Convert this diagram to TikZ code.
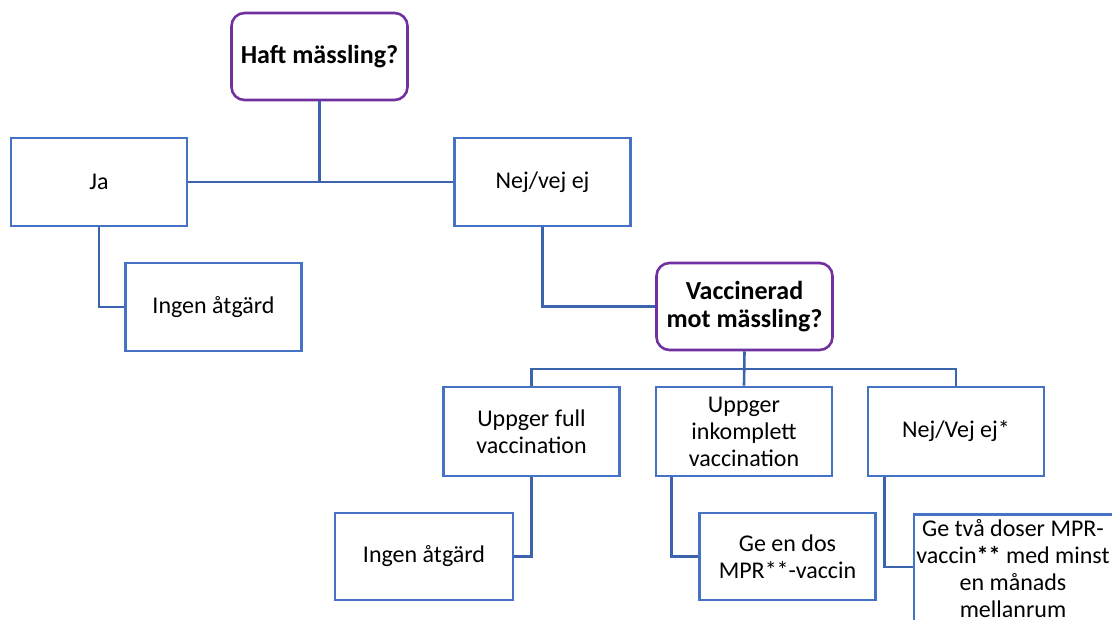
\documentclass[tikz,border=0pt]{standalone}
\usepackage{fontspec}
\setmainfont{Carlito}
\definecolor{boxblue}{HTML}{4472C4}
\definecolor{linkblue}{HTML}{3C64AE}
\definecolor{qpurple}{HTML}{7030A0}
\begin{document}
\begin{tikzpicture}[x=1pt,y=-1pt,
  box/.style={draw=boxblue, line width=2.6pt, fill=white, rectangle,
    minimum width=176, minimum height=88, align=center, inner sep=2pt,
    font=\fontsize{24}{27}\selectfont},
  question/.style={draw=qpurple, line width=2.6pt, fill=white, rectangle,
    rounded corners=13pt, minimum width=176, minimum height=87, align=center,
    inner sep=2pt, font=\fontsize{26}{28.5}\selectfont\bfseries},
  link/.style={draw=linkblue, line width=2.6pt}]
\clip (0,0) rectangle (1112,619);
\fill[white] (0,0) rectangle (1112,619);

% connectors first (behind boxes)
\coordinate (c1) at (319.5,182);
\coordinate (bar) at (744.5,369);

% nodes
\node[question] (haft) at (319.5,56.5) {Haft mässling?};
\node[box] (ja) at (99,182) {Ja};
\node[box] (nej) at (542.5,182) {Nej/vej ej};
\node[box] (ingen1) at (213.5,307) {Ingen åtgärd};
\node[question] (vacc) at (744.5,306.5) {Vaccinerad\\mot mässling?};
\node[box, minimum height=89] (full) at (531.5,431.5) {Uppger full\\vaccination};
\node[box, minimum height=89] (inkomp) at (744,431.5) {Uppger\\inkomplett\\vaccination};
\node[box, minimum height=89] (nejvej) at (956,431.5) {Nej/Vej ej*};
\node[box, minimum width=178, minimum height=87] (ingen2) at (424,556.5) {Ingen åtgärd};
\node[box, minimum height=87] (gedos) at (787.5,556.5) {Ge en dos\\MPR**-vaccin};
\node[box, minimum width=202, minimum height=140, anchor=north west] (getva) at (912.5,513) {};
\node[align=center, anchor=north, inner sep=0pt, font=\fontsize{24}{27}\selectfont]
  (getvat) at (1013,519) {Ge två doser MPR-\\vaccin\textbf{**} med minst\\en månads\\mellanrum};

% connectors
\begin{scope}[on background layer/.style={}]
\end{scope}
\draw[link] (haft.south) -- (c1);
\draw[link] (ja.east) -- (nej.west);
\draw[link] (ja.south) |- (ingen1.west);
\draw[link] (nej.south) |- (vacc.west);
\draw[link] (vacc.south) -- (inkomp.north);
\draw[link] (full.north) |- (bar) -| (nejvej.north);
\draw[link] (full.south) |- (ingen2.east);
\draw[link] ([xshift=17pt]inkomp.south west) |- (gedos.west);
\draw[link] ([xshift=18pt]nejvej.south west) |- ([yshift=-54pt]getva.north west);
\end{tikzpicture}
\end{document}
